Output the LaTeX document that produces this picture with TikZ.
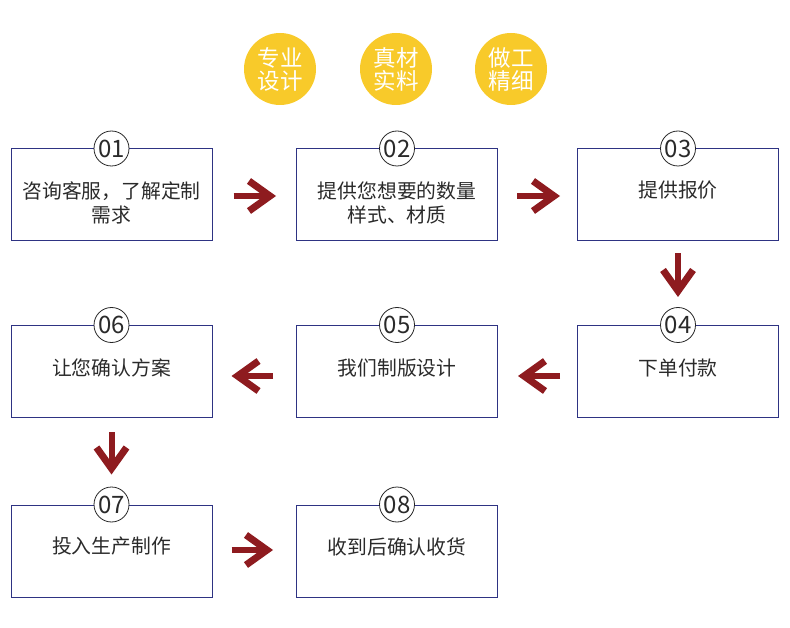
\documentclass[tikz,border=0pt]{standalone}
\usepackage{fontspec}
\newfontfamily\cjk{Noto Sans CJK SC}
\usetikzlibrary{arrows.meta}
\definecolor{navy}{HTML}{2E3383}
\definecolor{gold}{HTML}{F8CA2A}
\definecolor{darkred}{HTML}{8E1B1F}
\definecolor{txt}{HTML}{2A2A2A}
\tikzset{
  stepbox/.style={draw=navy, line width=1pt, minimum width=201pt, minimum height=92pt, inner sep=0pt},
  numc/.style={circle, draw=black!85, line width=0.8pt, fill=white, minimum size=35pt, inner sep=0pt, text=txt, font=\cjk\fontsize{24}{24}\selectfont},
  lbl/.style={align=center, text=txt, inner sep=0pt, font=\cjk\fontsize{19.8}{24}\selectfont},
  badge/.style={circle, fill=gold, minimum size=72pt, inner sep=0pt, align=center, text=white, font=\cjk\fontsize{22.5}{23}\selectfont},
  arr/.style={draw=darkred, line width=6pt, -{Straight Barb[length=21pt, width=30pt, line width=7pt]}}
}
\begin{document}
\begin{tikzpicture}[x=1pt, y=-1pt]
\useasboundingbox (0,0) rectangle (790,628);
% badges
\node[badge] (g1) at (280,69) {专业\\设计};
\node[badge] (g2) at (396,69) {真材\\实料};
\node[badge] (g3) at (511,69) {做工\\精细};
% boxes
\node[stepbox] (b1) at (111.5,195) {};
\node[stepbox] (b2) at (397,195) {};
\node[stepbox] (b3) at (678,195) {};
\node[stepbox] (b4) at (678,371.5) {};
\node[stepbox] (b5) at (397,371.5) {};
\node[stepbox] (b6) at (111.5,371.5) {};
\node[stepbox] (b7) at (111.5,551) {};
\node[stepbox] (b8) at (397,551) {};
% labels
\node[lbl] (t1) at ([yshift=-54pt]b1.north) {咨询客服，了解定制\\需求};
\node[lbl] (t2) at ([yshift=-54pt]b2.north) {提供您想要的数量\\样式、材质};
\node[lbl] (t3) at ([yshift=-42pt]b3.north) {提供报价};
\node[lbl] (t4) at ([yshift=-43pt]b4.north) {下单付款};
\node[lbl] (t5) at ([yshift=-43pt]b5.north) {我们制版设计};
\node[lbl] (t6) at ([yshift=-43pt]b6.north) {让您确认方案};
\node[lbl] (t7) at ([yshift=-42pt]b7.north) {投入生产制作};
\node[lbl] (t8) at ([yshift=-42pt]b8.north) {收到后确认收货};
% numbers
\node[numc] (n1) at (b1.north) {01};
\node[numc] (n2) at (b2.north) {02};
\node[numc] (n3) at (b3.north) {03};
\node[numc] (n4) at (b4.north) {04};
\node[numc] (n5) at (b5.north) {05};
\node[numc] (n6) at (b6.north) {06};
\node[numc] (n7) at (b7.north) {07};
\node[numc] (n8) at (b8.north) {08};
% arrows
\draw[arr] ([xshift=21pt,yshift=-1pt]b1.east) -- ([xshift=-20pt,yshift=-1pt]b2.west);
\draw[arr] ([xshift=19pt,yshift=-1pt]b2.east) -- ([xshift=-17pt,yshift=-1pt]b3.west);
\draw[arr] ([yshift=-12pt]b3.south) -- ([yshift=28pt]b4.north);
\draw[arr] ([xshift=-17pt,yshift=-4.5pt]b4.west) -- ([xshift=20pt,yshift=-4.5pt]b5.east);
\draw[arr] ([xshift=-23pt,yshift=-4.5pt]b5.west) -- ([xshift=19pt,yshift=-4.5pt]b6.east);
\draw[arr] ([yshift=-14pt]b6.south) -- ([yshift=30pt]b7.north);
\draw[arr] ([xshift=19pt,yshift=1pt]b7.east) -- ([xshift=-23pt,yshift=1pt]b8.west);
\end{tikzpicture}
\end{document}
